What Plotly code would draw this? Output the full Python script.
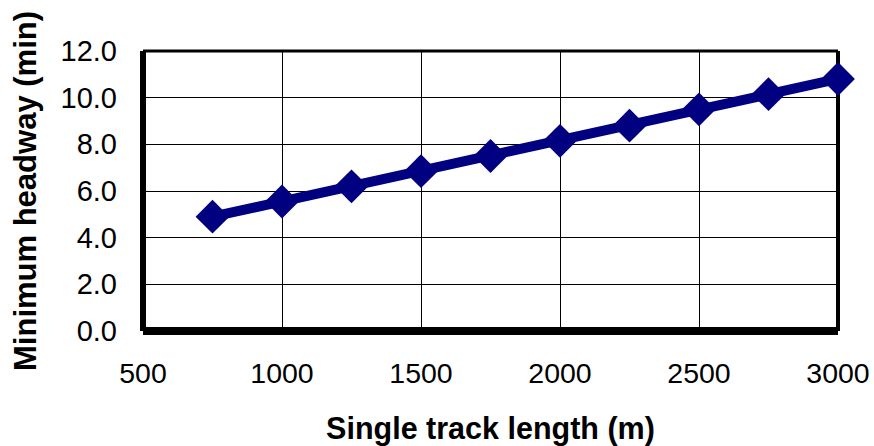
import plotly.graph_objects as go

# Single track length (m) vs. minimum headway (min)
track_length = [750, 1000, 1250, 1500, 1750, 2000, 2250, 2500, 2750, 3000]
min_headway = [4.9, 5.55, 6.2, 6.85, 7.5, 8.15, 8.8, 9.5, 10.15, 10.8]

x_ticks = [500, 1000, 1500, 2000, 2500, 3000]
y_ticks = [0, 2, 4, 6, 8, 10, 12]
y_tick_text = ["0.0", "2.0", "4.0", "6.0", "8.0", "10.0", "12.0"]

navy = "#000080"
font_family = "Liberation Sans, Arial, sans-serif"

fig = go.Figure(
    go.Scatter(
        x=track_length,
        y=min_headway,
        mode="lines+markers",
        line=dict(color=navy, width=10),
        marker=dict(symbol="diamond", size=26, color=navy),
        cliponaxis=False,
    )
)

fig.update_layout(
    width=874,
    height=446,
    margin=dict(l=143, r=36, t=51, b=115),
    paper_bgcolor="white",
    plot_bgcolor="white",
    showlegend=False,
    font=dict(family=font_family, color="black"),
    xaxis=dict(
        range=[500, 3000],
        tickvals=x_ticks,
        ticktext=[str(v) for v in x_ticks],
        tickfont=dict(size=28.5),
        showgrid=True,
        gridcolor="black",
        gridwidth=1,
        zeroline=False,
        showline=False,
        ticks="",
        automargin=False,
        ticklabelstandoff=22,
        title=dict(
            text="<b>Single track length (m)</b>",
            font=dict(size=30.5),
            standoff=31,
        ),
    ),
    yaxis=dict(
        range=[0, 12],
        tickvals=y_ticks,
        ticktext=y_tick_text,
        tickfont=dict(size=29),
        showgrid=True,
        gridcolor="black",
        gridwidth=1,
        zeroline=False,
        showline=False,
        ticks="",
        automargin=False,
        ticklabelstandoff=25,
        title=dict(
            text="<b>Minimum headway (min)</b>",
            font=dict(size=31),
            standoff=14,
        ),
    ),
    shapes=[
        # plot-area frame: heavy left/bottom, lighter top/right
        dict(type="line", xref="paper", yref="paper", x0=0, x1=0, y0=0, y1=1,
             line=dict(color="black", width=6), layer="between"),
        dict(type="line", xref="paper", yref="paper", x0=0, x1=1, y0=0, y1=0,
             line=dict(color="black", width=8), layer="between"),
        dict(type="line", xref="paper", yref="paper", x0=0, x1=1, y0=1, y1=1,
             line=dict(color="black", width=3), layer="between"),
        dict(type="line", xref="paper", yref="paper", x0=1, x1=1, y0=0, y1=1,
             line=dict(color="black", width=4), layer="between"),
    ],
)

fig.write_html("out.html")
